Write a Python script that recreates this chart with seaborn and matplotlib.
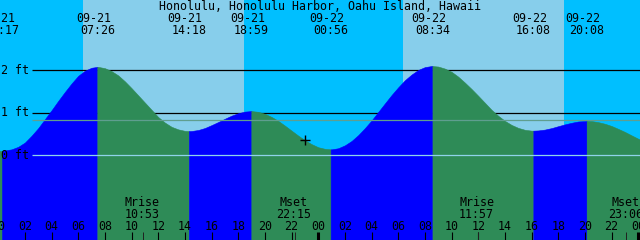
import numpy as np
import pandas as pd
import matplotlib
matplotlib.use("Agg")
import matplotlib.pyplot as plt
import seaborn as sns

# ---------------- data ----------------
TITLE = "Honolulu, Honolulu Harbor, Oahu Island, Hawaii"

# half-hourly time grid (hours since 09-21 00:00) and tide height (ft)
hours = list(np.arange(0, 49.5, 0.5))
heights = [0.11, 0.115, 0.14, 0.20, 0.30, 0.46, 0.64, 0.85, 1.06, 1.28,
           1.49, 1.69, 1.87, 1.99, 2.06, 2.08, 2.05, 1.98, 1.88, 1.74,
           1.58, 1.41, 1.24, 1.07, 0.90, 0.77, 0.67, 0.61, 0.575, 0.572,
           0.595, 0.642, 0.71, 0.783, 0.86, 0.933, 0.99, 1.028, 1.04, 1.023,
           0.975, 0.903, 0.81, 0.698, 0.58, 0.463, 0.355, 0.263, 0.19, 0.152,
           0.14, 0.166, 0.235, 0.337, 0.475, 0.639, 0.82, 1.02, 1.22, 1.418,
           1.60, 1.767, 1.90, 2.008, 2.075, 2.10, 2.088, 2.04, 1.965, 1.85,
           1.71, 1.56, 1.40, 1.235, 1.07, 0.93, 0.81, 0.715, 0.645, 0.60,
           0.58, 0.585, 0.605, 0.64, 0.685, 0.728, 0.765, 0.796, 0.805, 0.805,
           0.78, 0.742, 0.69, 0.622, 0.55, 0.469, 0.39, 0.319, 0.26]

# tide extremes
event_times = [0.283, 7.433, 14.300, 18.983, 24.933, 32.567, 40.133, 44.133]
event_heights = [0.10, 2.08, 0.57, 1.04, 0.14, 2.10, 0.58, 0.81]
event_kind = ["L", "H", "L", "H", "L", "H", "L", "H"]
event_dates = ["09-21", "09-21", "09-21", "09-21", "09-22", "09-22", "09-22", "09-22"]
event_clock = ["00:17", "07:26", "14:18", "18:59", "00:56", "08:34", "16:08", "20:08"]

# sunrise / sunset
sun_times = [6.35, 18.43, 30.36, 42.43]

# moon events
moon_times = [10.883, 22.25, 35.95, 47.10]
moon_names = ["Mrise", "Mset", "Mrise", "Mset"]
moon_clock = ["10:53", "22:15", "11:57", "23:06"]

level_labels = ["2 ft", "1 ft", "0 ft"]
level_values = [2, 1, 0]
mean_level = 0.82

now_time = [23.03]
now_height = [0.36]

hour_ticks = list(range(0, 49, 2))
hour_labels = ["%02d" % (h % 24) for h in hour_ticks]

# ---------------- styling ----------------
sns.set_theme(style="white")
plt.rcParams["font.family"] = ["DejaVu Sans Mono", "DejaVu Sans"]
FS = 8.4

NIGHT = "#00BFFF"
DAY = "#87CEEB"
RISE = "#0000FF"
FALL = "#2E8B57"

X0, X1 = 0.133, 48.133
Y0, Y1 = -1.993, 3.654
PXH = 640 / (X1 - X0)


def px2t(px):
    return X0 + px / PXH


def yfrac(px):
    return 1 - px / 240.0


fig = plt.figure(figsize=(6.4, 2.4), dpi=100)
ax = fig.add_axes([0, 0, 1, 1])
ax.set_xlim(X0, X1)
ax.set_ylim(Y0, Y1)
ax.axis("off")

# sky
bounds = [X0 - 1] + sun_times + [X1 + 1]
for i in range(len(bounds) - 1):
    ax.axvspan(bounds[i], bounds[i + 1], color=NIGHT if i % 2 == 0 else DAY,
               lw=0, zorder=0)

# reference lines behind the water
ax.hlines([2, 1], px2t(32), X1, color="black", lw=0.9, zorder=1)

# water fill, coloured by rising / falling
pts = pd.concat([pd.DataFrame({"t": hours, "h": heights}),
                 pd.DataFrame({"t": event_times, "h": event_heights})])
pts = pts.sort_values("t").reset_index(drop=True)
seg_bounds = [-np.inf] + event_times + [np.inf]
for k in range(len(seg_bounds) - 1):
    a, b = seg_bounds[k], seg_bounds[k + 1]
    seg = pts[(pts.t >= a) & (pts.t <= b)]
    if k < len(event_kind):
        rising = event_kind[k] == "H"
    else:
        rising = event_kind[-1] == "L"
    c = RISE if rising else FALL
    ax.fill_between(seg.t, seg.h, Y0, color=c, lw=0.4, edgecolor=c, zorder=2)

# datum and mean lines above the water
ax.hlines([0], px2t(32), X1, color="#8FD3EA", lw=0.9, zorder=3)
ax.hlines([mean_level], px2t(32), X1, color="#5F9E8F", lw=0.9, zorder=3)

# level labels
for lab, val in zip(level_labels, level_values):
    ax.text(px2t(1), val, lab, ha="left", va="center", fontsize=FS,
            color="black", zorder=5)

xt = ax.get_xaxis_transform()

# title and event labels
ax.text(0.5, yfrac(10), TITLE, transform=ax.transAxes, ha="center",
        va="baseline", fontsize=FS, color="black", zorder=5)
for t, d, c in zip(event_times, event_dates, event_clock):
    ax.text(t - 4 / PXH, yfrac(21.7), d, transform=xt, ha="center",
            va="baseline", fontsize=FS, color="black", zorder=5)
    ax.text(t, yfrac(34), c, transform=xt, ha="center", va="baseline",
            fontsize=FS, color="black", zorder=5)

# moon labels
for t, n, c in zip(moon_times, moon_names, moon_clock):
    ax.text(t - 1 / PXH, yfrac(206), n, transform=xt, ha="center",
            va="baseline", fontsize=FS, color="black", zorder=5)
    ax.text(t - 1 / PXH, yfrac(217.7), c, transform=xt, ha="center",
            va="baseline", fontsize=FS, color="black", zorder=5)

# hour labels and ticks
for h, lab in zip(hour_ticks, hour_labels):
    ax.text(h, yfrac(230), lab, transform=xt, ha="center", va="baseline",
            fontsize=FS, color="black", zorder=5)
    lw = 2.2 if h % 24 == 0 else 0.8
    ax.vlines(h, 0, yfrac(232), transform=xt, color="black", lw=lw, zorder=5)
ax.vlines(moon_times, 0, yfrac(232), transform=xt, color="#202020", lw=0.7,
          zorder=5)

# current time marker
sns.scatterplot(x=now_time, y=now_height, marker="+", s=60, color="black",
                linewidth=1.0, ax=ax, zorder=6, legend=False)
ax.set_xlim(X0, X1)
ax.set_ylim(Y0, Y1)
ax.axis("off")

fig.savefig("out.png", dpi=100)
